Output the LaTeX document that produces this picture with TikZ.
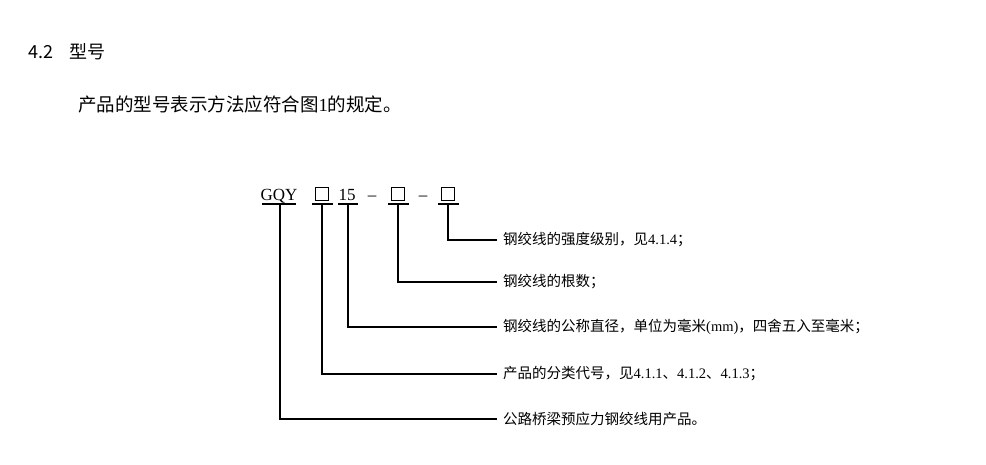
\documentclass[tikz,border=0pt]{standalone}
\usepackage{fontspec}
\setmainfont{Liberation Serif}
\newfontfamily\cjk{Noto Sans CJK SC}
\newcommand{\sq}{\tikz[baseline=0pt]\draw[line width=0.9pt] (0,0) rectangle (13pt,13pt);}
\begin{document}
\begin{tikzpicture}[x=1pt,y=-1pt,
  lbl/.style={anchor=west,inner sep=0pt,font=\cjk\fontsize{14.5}{16}\selectfont},
  code/.style={anchor=base,inner sep=0pt,font=\fontsize{17}{18}\selectfont},
  ln/.style={line width=1.1pt}]
\useasboundingbox (0,0) rectangle (986,464);
\node[anchor=west,inner sep=0pt,font=\cjk\fontsize{18}{20}\selectfont] (h) at (28,52) {4.2\hspace{0.9em}型号};
\node[anchor=west,inner sep=0pt,font=\cjk\fontsize{18.5}{20}\selectfont] (p) at (78,104) {产品的型号表示方法应符合图{\rmfamily 1}的规定。};
\node[code] (g) at (279,200) {GQY};
\node[code] (s1) at (322,200) {\sq};
\node[code] (n) at (347,200) {15};
\node[code] (d1) at (372,200) {--};
\node[code] (s2) at (398,200) {\sq};
\node[code] (d2) at (423,200) {--};
\node[code] (s3) at (448,200) {\sq};
\draw[ln] (262,204)--(296,204) (312,204)--(333,204) (338,204)--(358,204) (388,204)--(409,204) (438,204)--(459,204);
\node[lbl] (t1) at (503,240) {钢绞线的强度级别，见{\rmfamily 4.1.4}；};
\node[lbl] (t2) at (503,282) {钢绞线的根数；};
\node[lbl] (t3) at (503,327) {钢绞线的公称直径，单位为毫米{\rmfamily (mm)}，四舍五入至毫米；};
\node[lbl] (t4) at (503,374) {产品的分类代号，见{\rmfamily 4.1.1}、{\rmfamily 4.1.2}、{\rmfamily 4.1.3}；};
\node[lbl] (t5) at (503,419) {公路桥梁预应力钢绞线用产品。};
\draw[ln] (448,204) |- ([xshift=-6pt]t1.west);
\draw[ln] (398,204) |- ([xshift=-6pt]t2.west);
\draw[ln] (348,204) |- ([xshift=-6pt]t3.west);
\draw[ln] (322,204) |- ([xshift=-6pt]t4.west);
\draw[ln] (280,204) |- ([xshift=-6pt]t5.west);
\end{tikzpicture}
\end{document}
